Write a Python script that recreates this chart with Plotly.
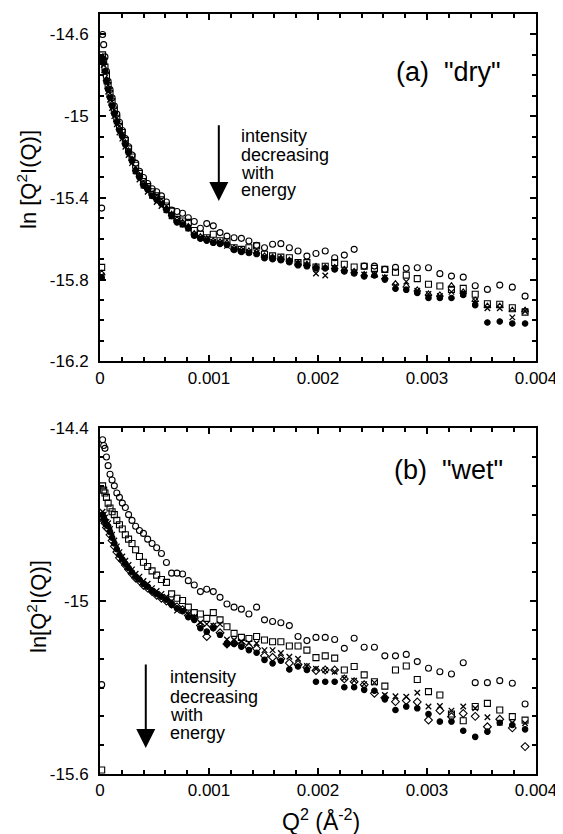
import plotly.graph_objects as go

# Q^2 grid (Å^-2), shared by all series
q2 = [0.0000154, 0.0000237, 0.0000337, 0.0000456, 0.0000592, 0.0000746, 0.0000919,
      0.0001108, 0.0001316, 0.0001542, 0.0001785, 0.0002046, 0.0002325, 0.0002622,
      0.0002936, 0.0003269, 0.0003619, 0.0003987, 0.0004373, 0.0004777, 0.0005198,
      0.0005638, 0.0006095, 0.000657, 0.0007063, 0.0007574, 0.0008102, 0.0008648,
      0.0009212, 0.0009794, 0.0010394, 0.0011012, 0.0011647, 0.00123, 0.0012972,
      0.0013661, 0.0014367, 0.0015092, 0.0015834, 0.0016594, 0.0017372, 0.0018168,
      0.0018982, 0.0019813, 0.0020663, 0.002153, 0.0022415, 0.0023317, 0.0024238,
      0.0025176, 0.0026133, 0.0027107, 0.0028098, 0.0029108, 0.0030136, 0.0031181,
      0.0032244, 0.0033325, 0.0034424, 0.0035541, 0.0036675, 0.0037827, 0.0038998]

# ---- (a) "dry" ----
dry_circle = [-15.45, -14.60, -14.65, -14.71, -14.78, -14.83, -14.87, -14.91, -14.95, -14.99,
              -15.03, -15.07, -15.11, -15.15, -15.19, -15.23, -15.27, -15.30, -15.33, -15.355,
              -15.37, -15.39, -15.42, -15.46, -15.467, -15.475, -15.497, -15.516, -15.549, -15.526,
              -15.537, -15.57, -15.587, -15.595, -15.598, -15.611, -15.632, -15.644, -15.627, -15.624,
              -15.644, -15.66, -15.685, -15.672, -15.66, -15.693, -15.68, -15.652, -15.734, -15.734,
              -15.75, -15.74, -15.745, -15.742, -15.742, -15.771, -15.783, -15.788, -15.83, -15.848,
              -15.827, -15.837, -15.881]
dry_square = [-15.74, -14.70, -14.73, -14.76, -14.80, -14.85, -14.89, -14.93, -14.97, -15.01,
              -15.05, -15.08, -15.12, -15.16, -15.20, -15.24, -15.28, -15.32, -15.345, -15.37,
              -15.39, -15.41, -15.44, -15.465, -15.505, -15.513, -15.52, -15.56, -15.578, -15.595,
              -15.578, -15.61, -15.615, -15.644, -15.652, -15.644, -15.635, -15.676, -15.684, -15.69,
              -15.693, -15.717, -15.717, -15.738, -15.735, -15.717, -15.725, -15.738, -15.735, -15.745,
              -15.75, -15.764, -15.778, -15.795, -15.823, -15.831, -15.848, -15.843, -15.872, -15.918,
              -15.921, -15.938, -15.959]
dry_triangle = [-15.77, -14.71, -14.74, -14.78, -14.82, -14.86, -14.90, -14.94, -14.98, -15.02,
                -15.06, -15.09, -15.13, -15.17, -15.21, -15.26, -15.29, -15.33, -15.35, -15.38,
                -15.40, -15.42, -15.45, -15.48, -15.505, -15.52, -15.54, -15.575, -15.59, -15.60,
                -15.61, -15.615, -15.62, -15.645, -15.655, -15.66, -15.665, -15.684, -15.69, -15.695,
                -15.705, -15.72, -15.725, -15.735, -15.74, -15.74, -15.75, -15.76, -15.775, -15.78,
                -15.79, -15.82, -15.83, -15.85, -15.87, -15.875, -15.83, -15.86, -15.90, -15.93,
                -15.93, -15.95, -15.95]
dry_cross = [-15.78, -14.73, -14.75, -14.79, -14.83, -14.88, -14.92, -14.96, -15.00, -15.04,
             -15.08, -15.11, -15.15, -15.19, -15.23, -15.27, -15.31, -15.34, -15.37, -15.39,
             -15.42, -15.44, -15.46, -15.49, -15.51, -15.53, -15.55, -15.58, -15.595, -15.60,
             -15.615, -15.62, -15.635, -15.65, -15.66, -15.665, -15.67, -15.69, -15.695, -15.70,
             -15.71, -15.72, -15.73, -15.77, -15.78, -15.745, -15.755, -15.765, -15.775, -15.775,
             -15.79, -15.83, -15.81, -15.855, -15.87, -15.88, -15.86, -15.87, -15.905, -15.94,
             -15.94, -15.985, -15.955]
dry_filled = [-15.79, -14.72, -14.74, -14.78, -14.83, -14.87, -14.91, -14.95, -14.99, -15.03,
              -15.07, -15.10, -15.14, -15.18, -15.22, -15.27, -15.30, -15.34, -15.36, -15.39,
              -15.41, -15.43, -15.46, -15.49, -15.52, -15.53, -15.55, -15.585, -15.60, -15.61,
              -15.62, -15.625, -15.63, -15.655, -15.665, -15.67, -15.675, -15.695, -15.70, -15.705,
              -15.715, -15.73, -15.735, -15.745, -15.745, -15.75, -15.76, -15.77, -15.785, -15.78,
              -15.80, -15.845, -15.85, -15.865, -15.89, -15.89, -15.89, -15.875, -15.925, -16.01,
              -16.005, -16.015, -16.015]

# ---- (b) "wet" ----
wet_circle = [-15.29, -14.44, -14.46, -14.47, -14.50, -14.53, -14.56, -14.58, -14.60, -14.625,
              -14.64, -14.66, -14.675, -14.70, -14.72, -14.74, -14.755, -14.765, -14.785, -14.80,
              -14.815, -14.835, -14.866, -14.903, -14.903, -14.906, -14.929, -14.944, -14.967, -14.959,
              -14.967, -14.987, -15.01, -15.021, -15.028, -15.045, -15.021, -15.065, -15.071, -15.075,
              -15.085, -15.123, -15.137, -15.126, -15.126, -15.133, -15.164, -15.129, -15.16, -15.16,
              -15.19, -15.19, -15.185, -15.21, -15.233, -15.245, -15.253, -15.214, -15.283, -15.283,
              -15.276, -15.285, -15.357]
wet_square = [-15.586, -14.60, -14.615, -14.625, -14.64, -14.66, -14.677, -14.69, -14.70, -14.72,
              -14.735, -14.75, -14.77, -14.785, -14.80, -14.822, -14.845, -14.865, -14.88, -14.895,
              -14.91, -14.925, -14.935, -14.975, -14.99, -14.998, -15.021, -15.04, -15.045, -15.06,
              -15.04, -15.065, -15.089, -15.112, -15.126, -15.13, -15.123, -15.135, -15.141, -15.141,
              -15.156, -15.156, -15.17, -15.196, -15.19, -15.198, -15.239, -15.227, -15.256, -15.28,
              -15.295, -15.239, -15.225, -15.272, -15.314, -15.326, -15.392, -15.415, -15.366, -15.355,
              -15.378, -15.401, -15.413]
wet_cross = [None, -14.69, -14.70, -14.71, -14.725, -14.73, -14.75, -14.77, -14.79, -14.81,
             -14.83, -14.845, -14.86, -14.875, -14.89, -14.905, -14.915, -14.93, -14.94, -14.955,
             -14.965, -14.975, -14.985, -15.00, -15.033, -15.03, -15.045, -15.055, -15.075, -15.08,
             -15.085, -15.08, -15.133, -15.135, -15.14, -15.145, -15.146, -15.17, -15.17, -15.18,
             -15.193, -15.20, -15.225, -15.235, -15.24, -15.245, -15.268, -15.276, -15.288, -15.283,
             -15.326, -15.33, -15.332, -15.318, -15.366, -15.364, -15.38, -15.366, -15.372, -15.403,
             -15.422, -15.422, -15.424]
wet_diamond = [None, -14.71, -14.72, -14.73, -14.745, -14.75, -14.77, -14.79, -14.81, -14.83,
               -14.85, -14.86, -14.875, -14.89, -14.905, -14.92, -14.93, -14.945, -14.955, -14.967,
               -14.98, -14.99, -15.00, -15.01, -15.02, -15.03, -15.05, -15.06, -15.085, -15.123,
               -15.09, -15.11, -15.149, -15.145, -15.15, -15.16, -15.165, -15.19, -15.195, -15.20,
               -15.215, -15.22, -15.23, -15.241, -15.239, -15.239, -15.27, -15.28, -15.29, -15.32,
               -15.335, -15.349, -15.345, -15.35, -15.413, -15.38, -15.401, -15.39, -15.40, -15.436,
               -15.41, -15.44, -15.505]
wet_filled = [None, -14.70, -14.71, -14.72, -14.735, -14.74, -14.76, -14.78, -14.80, -14.82,
              -14.84, -14.855, -14.87, -14.885, -14.90, -14.915, -14.925, -14.94, -14.95, -14.965,
              -14.975, -14.985, -14.995, -15.013, -15.025, -15.035, -15.056, -15.065, -15.094, -15.106,
              -15.094, -15.117, -15.149, -15.149, -15.158, -15.17, -15.179, -15.204, -15.216, -15.207,
              -15.237, -15.227, -15.239, -15.28, -15.28, -15.28, -15.299, -15.299, -15.308, -15.311,
              -15.341, -15.378, -15.366, -15.372, -15.392, -15.418, -15.418, -15.45, -15.471, -15.453,
              -15.422, -15.43, -15.445]

x_ticks = [0, 0.001, 0.002, 0.003, 0.004]
x_ticktext = ["0", "0.001", "0.002", "0.003", "0.004"]
ya_ticks = [-16.2, -15.8, -15.4, -15, -14.6]
ya_ticktext = ["-16.2", "-15.8", "-15.4", "-15", "-14.6"]
yb_ticks = [-15.6, -15, -14.4]
yb_ticktext = ["-15.6", "-15", "-14.4"]

FONT = "Liberation Sans, Arial, Helvetica, sans-serif"
BLACK = "#000000"

fig = go.Figure()


def add(y, symbol, xa, ya, size=6, lw=1.1):
    fig.add_trace(go.Scatter(
        x=q2, y=y, mode="markers", xaxis=xa, yaxis=ya, showlegend=False,
        cliponaxis=False,
        marker=dict(symbol=symbol, size=size, color=BLACK,
                    line=dict(color=BLACK, width=lw))))


add(dry_circle, "circle-open", "x", "y")
add(dry_square, "square-open", "x", "y")
add(dry_triangle, "triangle-up-open", "x", "y")
add(dry_cross, "x-thin", "x", "y", size=5.5, lw=1.3)
add(dry_filled, "circle", "x", "y", size=5.5)

add(wet_circle, "circle-open", "x2", "y2")
add(wet_square, "square-open", "x2", "y2")
add(wet_diamond, "diamond-open", "x2", "y2")
add(wet_cross, "x-thin", "x2", "y2", size=5.5, lw=1.3)
add(wet_filled, "circle", "x2", "y2", size=5.5)

axis_common = dict(
    showline=True, linecolor=BLACK, linewidth=2, mirror="allticks",
    ticks="inside", ticklen=6, tickwidth=2, tickcolor=BLACK,
    showgrid=False, zeroline=False, automargin=False,
    tickfont=dict(family=FONT, size=17, color=BLACK),
)

xaxis = dict(axis_common, range=[0, 0.004], tickvals=x_ticks, ticktext=x_ticktext,
             minor=dict(dtick=0.0002, tick0=0, ticks="inside", ticklen=4, tickwidth=2,
                        tickcolor=BLACK, showgrid=False),
             ticklabelstandoff=0)

# The page body adds an 8 px offset, so the figure is drawn 8 px smaller.
OFF = 8
W, H = 563 - OFF, 834 - OFF
L, R, T, B = 100 - OFF, 27, 14 - OFF, 60

fig.update_layout(
    template="none",
    width=W, height=H,
    margin=dict(l=L, r=R, t=T, b=B),
    paper_bgcolor="white", plot_bgcolor="white",
    xaxis=dict(xaxis, anchor="y"),
    yaxis=dict(axis_common, domain=[0.543, 1.0], range=[-16.2, -14.5],
               tickvals=ya_ticks, ticktext=ya_ticktext, anchor="x",
               minor=dict(dtick=0.1, tick0=-16.2, ticks="inside", ticklen=4, tickwidth=2,
                          tickcolor=BLACK, showgrid=False),
               ticklabelstandoff=6),
    xaxis2=dict(xaxis, anchor="y2"),
    yaxis2=dict(axis_common, domain=[0.0, 0.455], range=[-15.6, -14.4],
                tickvals=yb_ticks, ticktext=yb_ticktext, anchor="x2",
                minor=dict(dtick=0.1, tick0=-15.6, ticks="inside", ticklen=4, tickwidth=2,
                           tickcolor=BLACK, showgrid=False),
                ticklabelstandoff=6),
)

ann = []
txt_font = dict(family=FONT, size=18, color=BLACK)
# panel labels
ann.append(dict(x=0.0036955, y=-14.786, xref="x", yref="y", xanchor="right", yanchor="middle",
                text="(a)\u00a0\u00a0\"dry\"", showarrow=False,
                font=dict(family=FONT, size=27, color=BLACK)))
ann.append(dict(x=0.00372, y=-14.544, xref="x2", yref="y2", xanchor="right", yanchor="middle",
                text="(b)\u00a0\u00a0\"wet\"", showarrow=False,
                font=dict(family=FONT, size=27, color=BLACK)))
# arrows
ann.append(dict(x=0.00109, y=-15.415, ax=0.00109, ay=-15.037, xref="x", yref="y",
                axref="x", ayref="y", showarrow=True, arrowhead=2, arrowsize=1.9,
                arrowwidth=2, arrowcolor=BLACK, text=""))
ann.append(dict(x=0.00042, y=-15.51, ax=0.00042, ay=-15.215, xref="x2", yref="y2",
                axref="x2", ayref="y2", showarrow=True, arrowhead=2, arrowsize=1.9,
                arrowwidth=2, arrowcolor=BLACK, text=""))
# arrow texts (one line each)
lines = ["intensity", "decreasing", "with", "energy"]
for t, yy in zip(lines, [-15.096, -15.19, -15.276, -15.361]):
    ann.append(dict(x=0.001276, y=yy, xref="x", yref="y", xanchor="left", yanchor="middle",
                    text=t, showarrow=False, font=txt_font))
for t, yy in zip(lines, [-15.262, -15.332, -15.395, -15.459]):
    ann.append(dict(x=0.000626, y=yy, xref="x2", yref="y2", xanchor="left", yanchor="middle",
                    text=t, showarrow=False, font=txt_font))
# axis titles (page-pixel positions, converted to paper coordinates below)
title_font = dict(family=FONT, size=22, color=BLACK)
ann.append(dict(x=27, y=180, xref="paper", yref="paper", text="ln [Q<sup>2</sup>I(Q)]",
                textangle=-90, showarrow=False, font=title_font))
ann.append(dict(x=37, y=607, xref="paper", yref="paper", text="ln[Q<sup>2</sup>I(Q)]",
                textangle=-90, showarrow=False, font=title_font))
ann.append(dict(x=321, y=820, xref="paper", yref="paper", text="Q<sup>2</sup> (Å<sup>-2</sup>)",
                showarrow=False, font=dict(family=FONT, size=23, color=BLACK)))

pw, ph = W - L - R, H - T - B
for a in ann:
    if a.get("xref") == "paper":
        px, py = a["x"] - OFF, a["y"] - OFF
        a["x"] = (px - L) / pw
        a["y"] = (H - B - py) / ph
        a["xanchor"] = "center"
        a["yanchor"] = "middle"

fig.update_layout(annotations=ann)
fig.write_html("out.html")
